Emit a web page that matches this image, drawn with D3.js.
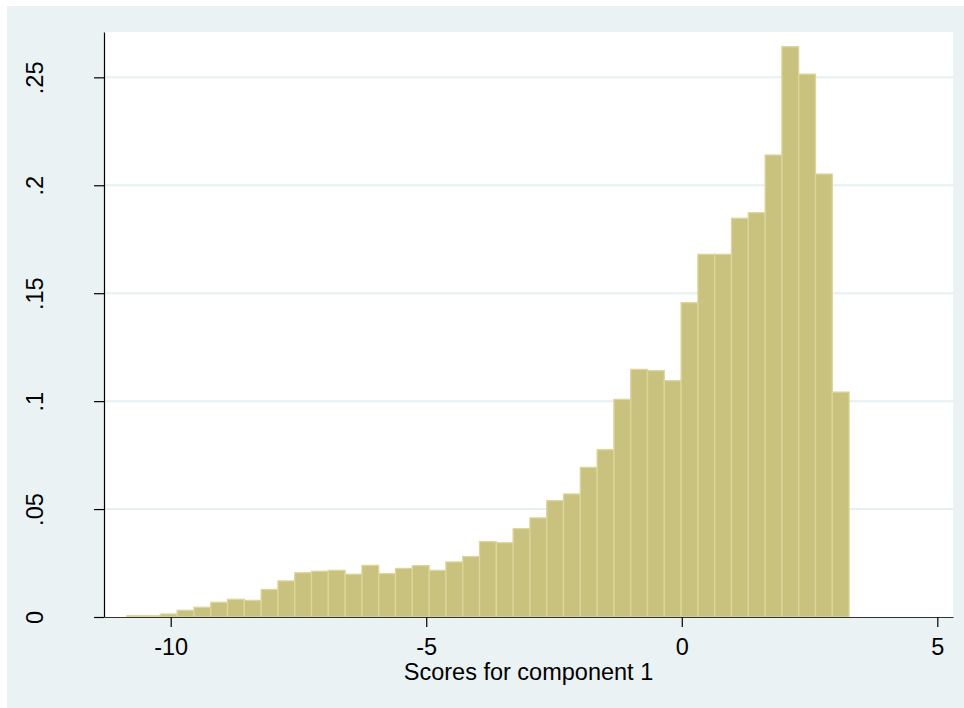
<!DOCTYPE html>
<html>
<head>
<meta charset="utf-8">
<script src="https://cdn.jsdelivr.net/npm/d3@7"></script>
<style>
  html, body { margin: 0; padding: 0; background: #ffffff; }
  svg { display: block; }
  text { font-family: "Liberation Sans", Arial, sans-serif; fill: #000; }
</style>
</head>
<body>
<svg id="chart" width="964" height="708"></svg>
<script>
// ---- data ----
const binStart = -10.86;      // left edge of first bin (score units)
const binWidth = 0.3287;      // bin width (score units)
const density = [
  0.0006, 0.0006, 0.0014, 0.0031, 0.0045, 0.0068, 0.0082, 0.0077, 0.0127, 0.0167,
  0.0205, 0.0212, 0.0216, 0.0198, 0.0239, 0.0201, 0.0225, 0.0238, 0.0216, 0.0255,
  0.0280, 0.0349, 0.0344, 0.0409, 0.0459, 0.0539, 0.0570, 0.0693, 0.0775, 0.1008,
  0.1147, 0.1141, 0.1095, 0.1456, 0.1680, 0.1680, 0.1847, 0.1873, 0.2140, 0.2642,
  0.2515, 0.2052, 0.1042
];
const xTicks = [-10, -5, 0, 5];
const xTickLabels = ["-10", "-5", "0", "5"];
const yTicks = [0, 0.05, 0.1, 0.15, 0.2, 0.25];
const yTickLabels = ["0", ".05", ".1", ".15", ".2", ".25"];
const xTitle = "Scores for component 1";

// ---- layout ----
const svg = d3.select("#chart");
const plot = { left: 104, right: 953, top: 32, bottom: 617 };
const fontSize = 23.5;

svg.append("rect").attr("x", 7).attr("y", 6).attr("width", 964 - 7).attr("height", 708 - 6)
  .attr("fill", "#eaf2f3");
svg.append("rect").attr("x", plot.left).attr("y", plot.top)
  .attr("width", plot.right - plot.left).attr("height", plot.bottom - plot.top)
  .attr("fill", "#ffffff");

const x = d3.scaleLinear().domain([-11.305, 5.307]).range([plot.left, plot.right]);
const y = d3.scaleLinear().domain([0, 0.271]).range([plot.bottom, plot.top]);

// gridlines
svg.append("g").selectAll("line").data(yTicks.filter(d => d > 0)).join("line")
  .attr("x1", plot.left).attr("x2", plot.right)
  .attr("y1", d => y(d)).attr("y2", d => y(d))
  .attr("stroke", "#e6eff1").attr("stroke-width", 2);

// bars
const bins = density.map((v, i) => ({ x0: binStart + i * binWidth, x1: binStart + (i + 1) * binWidth, v }));
svg.append("g").selectAll("rect").data(bins).join("rect")
  .attr("x", d => x(d.x0))
  .attr("width", d => x(d.x1) - x(d.x0))
  .attr("y", d => y(d.v))
  .attr("height", d => y(0) - y(d.v))
  .attr("fill", "#c9c17e")
  .attr("stroke", "#dcd69c")
  .attr("stroke-width", 1.3);

// axes
const xAxis = d3.axisBottom(x).tickValues(xTicks).tickFormat((d, i) => xTickLabels[i])
  .tickSize(10).tickSizeOuter(0).tickPadding(0);
const gx = svg.append("g").attr("transform", `translate(0,${plot.bottom})`).call(xAxis);
gx.select(".domain").attr("stroke", "#333").attr("stroke-width", 1.2);
gx.selectAll(".tick line").attr("stroke", "#000").attr("stroke-width", 1.2);
gx.selectAll(".tick text").attr("font-size", fontSize).attr("fill", "#000")
  .attr("font-family", "Liberation Sans, Arial, sans-serif")
  .attr("dy", null).attr("y", 37.5);

const yAxis = d3.axisLeft(y).tickValues(yTicks).tickFormat((d, i) => yTickLabels[i])
  .tickSize(10).tickSizeOuter(0);
const gy = svg.append("g").attr("transform", `translate(${plot.left},0)`).call(yAxis);
gy.select(".domain").attr("stroke", "#000").attr("stroke-width", 1.2);
gy.selectAll(".tick line").attr("stroke", "#000").attr("stroke-width", 1.2);
gy.selectAll(".tick text")
  .attr("font-size", fontSize).attr("fill", "#000")
  .attr("font-family", "Liberation Sans, Arial, sans-serif")
  .attr("x", null).attr("dy", null)
  .attr("text-anchor", "middle")
  .attr("transform", `translate(${43 - plot.left},0) rotate(-90)`);

// x title
svg.append("text")
  .attr("x", (plot.left + plot.right) / 2)
  .attr("y", 679.5)
  .attr("text-anchor", "middle")
  .attr("font-size", fontSize)
  .text(xTitle);
</script>
</body>
</html>
